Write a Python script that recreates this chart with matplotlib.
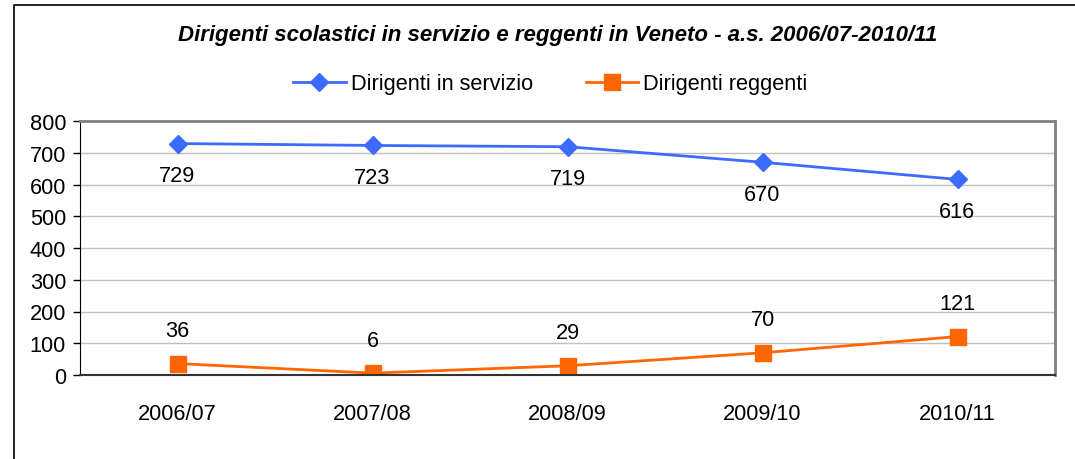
import matplotlib.pyplot as plt
from matplotlib.patches import Rectangle

plt.rcParams['font.family'] = ['Liberation Sans', 'DejaVu Sans']

# ── Data ─────────────────────────────────────────────────────────────────────
years = ["2006/07", "2007/08", "2008/09", "2009/10", "2010/11"]
in_servizio = [729, 723, 719, 670, 616]
reggenti = [36, 6, 29, 70, 121]

BLUE = "#3D6BFF"
ORANGE = "#FF6600"
FS = 15.7

fig = plt.figure(figsize=(10.75, 4.6), dpi=100)
W, H = 1075, 460

# outer chart frame (runs past right/bottom edge as in the source)
fig.patches.append(Rectangle((14 / W, -0.05), 1.2, 1 - 6 / H + 0.05,
                             transform=fig.transFigure, fill=False,
                             edgecolor="black", linewidth=1.2))

ax = fig.add_axes([80 / W, 1 - 376 / H, 975 / W, 254 / H])
x = list(range(len(years)))

ax.plot(x, in_servizio, color=BLUE, marker="D", markersize=9, linewidth=2,
        label="Dirigenti in servizio")
ax.plot(x, reggenti, color=ORANGE, marker="s", markersize=11, linewidth=2,
        label="Dirigenti reggenti")

for xi, v in zip(x, in_servizio):
    ax.annotate(str(v), (xi, v), xytext=(0, -32), textcoords="offset pixels",
                ha="center", va="center", fontsize=FS)
for xi, v in zip(x, reggenti):
    ax.annotate(str(v), (xi, v), xytext=(0, 33), textcoords="offset pixels",
                ha="center", va="center", fontsize=FS)

ax.set_xlim(-0.5, 4.5)
ax.set_ylim(0, 800)
ax.set_yticks(range(0, 801, 100))
ax.set_xticks(x)
ax.set_xticklabels(years)
ax.tick_params(axis="y", labelsize=FS, direction="out", length=5, width=1, pad=5)
ax.tick_params(axis="x", labelsize=FS, length=0, pad=20)
ax.grid(axis="y", color="#C0C0C0", linewidth=1)
ax.set_axisbelow(True)

ax.spines["left"].set_color("black")
ax.spines["bottom"].set_color("#333333")
ax.spines["bottom"].set_linewidth(1.5)
for s in ("top", "right"):
    ax.spines[s].set_color("#808080")
    ax.spines[s].set_linewidth(2)

fig.text(0.5186, 1 - 36 / H,
         "Dirigenti scolastici in servizio e reggenti in Veneto - a.s. 2006/07-2010/11",
         ha="center", va="center", fontsize=16, fontweight="bold", style="italic")

fig.legend(loc="center", bbox_to_anchor=(0.512, 1 - 85 / H), ncol=2,
           frameon=False, fontsize=FS, handlelength=2.4, columnspacing=2.4,
           handletextpad=0.25)

plt.savefig("out.png", dpi=100)
